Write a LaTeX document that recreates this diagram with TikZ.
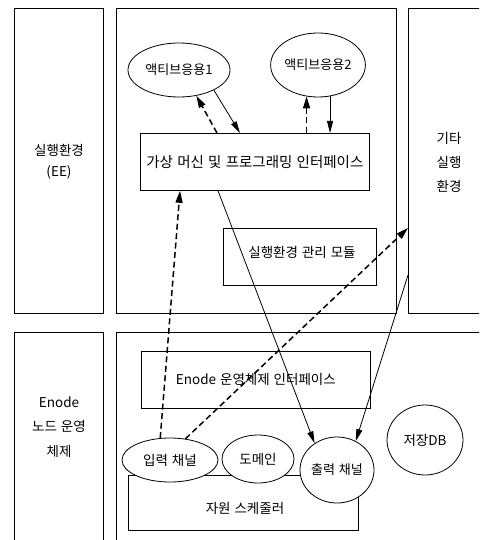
\documentclass[tikz,border=0pt]{standalone}
\usepackage{fontspec}
\setmainfont{Noto Sans CJK KR}[WordSpace=1.3]
\usetikzlibrary{shapes.geometric,arrows.meta,calc}
\begin{document}
\begin{tikzpicture}[x=1pt,y=-1pt,
  box/.style={draw, line width=0.8pt, inner sep=0pt, anchor=north west},
  bub/.style={draw, ellipse, line width=0.8pt, fill=white, inner sep=0pt},
  lbl/.style={font=\fontsize{13.5}{21}\selectfont, align=center, inner sep=0pt},
  sol/.style={line width=0.8pt, -{Triangle[length=12pt,width=6pt]}},
  dsh/.style={line width=1.5pt, dash pattern=on 6pt off 3.5pt, -{Triangle[length=12pt,width=7pt]}}]
\useasboundingbox (0,0) rectangle (479,540);
\fill[white] (0,0) rectangle (479,540);
\clip (0,0) rectangle (479,540);
% outer boxes
\node[box, minimum width=89pt, minimum height=305pt] (ee) at (14,8) {};
\node[box, minimum width=280pt, minimum height=305pt] (eebox) at (116,8) {};
\node[box, minimum width=90pt, minimum height=305pt] (other) at (408,8) {};
\node[box, minimum width=89pt, minimum height=230pt] (os) at (14,332) {};
\node[box, minimum width=380pt, minimum height=230pt] (osbox) at (116,332) {};
% outer texts
\node[lbl] (eet) at (59,162) {실행환경\\(EE)};
\node[lbl, font=\fontsize{13.5}{24}\selectfont] (othert) at (449,162) {기타\\실행\\환경};
\node[lbl, font=\fontsize{13.5}{24.5}\selectfont] (ost) at (59,427) {Enode\\노드 운영\\체제};
% inner boxes
\node[box, minimum width=229pt, minimum height=57pt, font=\fontsize{14.5}{16}\selectfont] (vm) at (140,133) {가상 머신 및 프로그래밍 인터페이스};
\node[box, minimum width=153pt, minimum height=57pt] (mgr) at (223,228) {};
\node[lbl] (mgrt) at (302,252) {실행환경 관리 모듈};
\node[box, minimum width=229pt, minimum height=57pt, font=\fontsize{13.5}{16}\selectfont] (osif) at (141,351) {Enode 운영체제 인터페이스};
\node[box, minimum width=230pt, minimum height=55pt] (sched) at (128,475) {};
\node[lbl] (schedt) at (245,508) {자원 스케줄러};
% bubbles
\node[bub, minimum width=102pt, minimum height=54pt, font=\fontsize{13}{16}\selectfont] (app1) at (179,70) {액티브응용1};
\node[bub, minimum width=92pt, minimum height=64pt, font=\fontsize{13}{16}\selectfont] (app2) at (318,65) {액티브응용2};
\node[bub, minimum width=96pt, minimum height=44pt, font=\fontsize{13.5}{16}\selectfont] (inch) at (170,460) {입력 채널};
\node[bub, minimum width=72pt, minimum height=48pt, font=\fontsize{13.5}{16}\selectfont] (dom) at (258,459) {도메인};
\node[bub, minimum width=74pt, minimum height=66pt, font=\fontsize{13}{16}\selectfont] (outch) at (337,470) {출력 채널};
\node[bub, minimum width=76pt, minimum height=70pt, font=\fontsize{13.5}{16}\selectfont] (db) at (425,440) {저장DB};
% connectors
\draw[dsh] ($(vm.north west)+(77,0)$) -- (app1.-56);
\draw[sol] (app1.-30) -- ($(vm.north west)+(100,0)$);
\draw[dsh] (vm.north -| app2.-110) -- (app2.-110);
\draw[sol] (app2.-69) -- (vm.north -| app2.-69);
\draw[dsh] (inch.114) -- ($(vm.south west)+(40,0)$);
\draw[dsh] (inch.54) -- ($(other.north west)+(0,220)$);
\draw[sol] ($(vm.south west)+(78,0)$) -- (outch.130);
\draw[sol] ($(other.north west)+(0,267)$) -- (outch.57);
\end{tikzpicture}
\end{document}
